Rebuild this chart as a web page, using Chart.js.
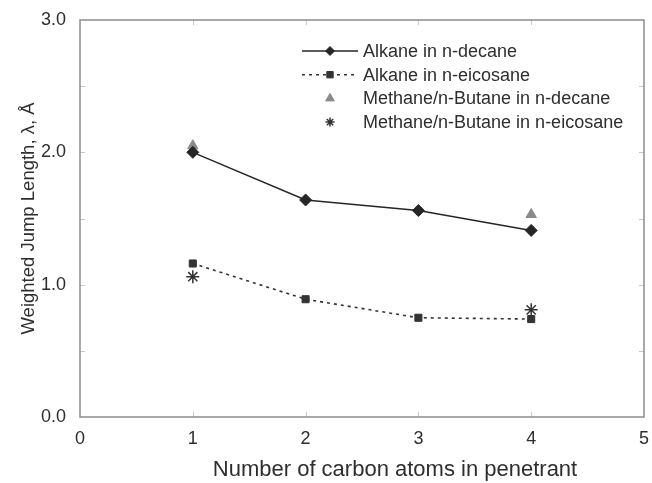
<!DOCTYPE html>
<html>
<head>
<meta charset="utf-8">
<script src="https://cdn.jsdelivr.net/npm/chart.js@4/dist/chart.umd.min.js"></script>
<style>
  html, body { margin: 0; padding: 0; background: #fff; }
  #wrap { width: 652px; height: 483px; }
</style>
</head>
<body>
<div id="wrap"><canvas id="c" width="652" height="483"></canvas></div>
<script>
// ---- data ----
const carbonAtoms = [1, 2, 3, 4];
const alkaneDecane = [2.00, 1.64, 1.56, 1.41];
const alkaneEicosane = [1.16, 0.89, 0.75, 0.74];
const mixAtoms = [1, 4];
const mixDecane = [2.05, 1.53];
const mixEicosane = [1.06, 0.81];
const seriesNames = [
  'Alkane in n-decane',
  'Alkane in n-eicosane',
  'Methane/n-Butane in n-decane',
  'Methane/n-Butane in n-eicosane'
];
const xTicks = [0, 1, 2, 3, 4, 5];
const yTicks = [0, 1, 2, 3];
const xTitle = 'Number of carbon atoms in penetrant';
const yTitle = 'Weighted Jump Length, \u03bb, \u00c5';

const pts = (xs, ys) => xs.map((x, i) => ({ x: x, y: ys[i] }));
const FONT = 'Liberation Sans, Arial, Helvetica, sans-serif';
const TXT = '#2e2e2e';

const datasets = [
  { label: seriesNames[0], data: pts(carbonAtoms, alkaneDecane), showLine: true,
    borderColor: '#262626', backgroundColor: '#262626', borderWidth: 1.5,
    pointStyle: 'rectRot', pointRadius: 6, pointBorderWidth: 1 },
  { label: seriesNames[1], data: pts(carbonAtoms, alkaneEicosane), showLine: true,
    borderColor: '#333', backgroundColor: '#333', borderWidth: 1.6, borderDash: [3, 4],
    pointStyle: 'rect', pointRadius: 5, pointBorderWidth: 1 },
  { label: seriesNames[2], data: pts(mixAtoms, mixDecane), showLine: false,
    borderColor: '#8a8a8a', backgroundColor: '#8a8a8a',
    pointStyle: 'triangle', pointRadius: 6, pointBorderWidth: 1 },
  { label: seriesNames[3], data: pts(mixAtoms, mixEicosane), showLine: false,
    borderColor: '#333', backgroundColor: '#333',
    pointStyle: 'star', pointRadius: 6.5, pointBorderWidth: 1.5 }
];

const framePlugin = {
  id: 'frame',
  afterDatasetsDraw(chart) {
    const { ctx, chartArea: a, scales } = chart;
    ctx.save();
    // minor tick marks (inward)
    ctx.strokeStyle = '#c8c8c8';
    ctx.lineWidth = 1;
    for (let v = 0.5; v < 3; v += 0.5) {
      const y = Math.round(scales.y.getPixelForValue(v)) + 0.5;
      ctx.beginPath();
      ctx.moveTo(a.left, y); ctx.lineTo(a.left + 5, y);
      ctx.moveTo(a.right, y); ctx.lineTo(a.right - 5, y);
      ctx.stroke();
    }
    for (let v = 1; v < 5; v++) {
      const x = Math.round(scales.x.getPixelForValue(v)) + 0.5;
      ctx.beginPath();
      ctx.moveTo(x, a.bottom); ctx.lineTo(x, a.bottom - 5);
      ctx.moveTo(x, a.top); ctx.lineTo(x, a.top + 5);
      ctx.stroke();
    }
    // plot frame
    ctx.strokeStyle = '#8c8c8c';
    ctx.lineWidth = 1.5;
    ctx.strokeRect(a.left, a.top, a.right - a.left, a.bottom - a.top);
    ctx.restore();
  },
  afterDraw(chart) {
    const { ctx } = chart;
    ctx.save();
    // x-axis title (as placed in the reference, slightly right of centre)
    ctx.font = '22px ' + FONT;
    ctx.fillStyle = TXT;
    ctx.textAlign = 'center';
    ctx.textBaseline = 'middle';
    ctx.fillText(xTitle, 395, 470);
    // legend inside plot area
    const sx0 = 302, sx1 = 358, mx = 330, tx = 363;
    const y0 = 51, dy = 23.7;
    ctx.font = '18px ' + FONT;
    ctx.textAlign = 'left';
    chart.data.datasets.forEach((ds, i) => {
      const y = y0 + i * dy;
      if (ds.showLine) {
        ctx.save();
        ctx.strokeStyle = ds.borderColor;
        ctx.lineWidth = ds.borderWidth;
        ctx.setLineDash(ds.borderDash || []);
        ctx.beginPath();
        ctx.moveTo(sx0, y); ctx.lineTo(sx1, y);
        ctx.stroke();
        ctx.restore();
      }
      ctx.save();
      ctx.strokeStyle = ds.borderColor;
      ctx.fillStyle = ds.backgroundColor;
      ctx.lineWidth = ds.pointBorderWidth;
      Chart.helpers.drawPoint(ctx, { pointStyle: ds.pointStyle, radius: ds.pointStyle === 'triangle' ? 5 : 4.5, rotation: 0, borderWidth: ds.pointBorderWidth }, mx, y);
      ctx.restore();
      ctx.fillStyle = TXT;
      ctx.fillText(ds.label, tx, y + 1);
    });
    ctx.restore();
  }
};

new Chart(document.getElementById('c'), {
  type: 'scatter',
  data: { datasets },
  options: {
    responsive: false,
    animation: false,
    devicePixelRatio: 1,
    layout: { padding: { top: 20, right: 4, left: 0, bottom: 0 } },
    plugins: { legend: { display: false }, tooltip: { enabled: false } },
    scales: {
      x: {
        type: 'linear', min: 0, max: 5,
        afterBuildTicks: s => { s.ticks = xTicks.map(v => ({ value: v })); },
        afterFit: s => { s.height = 66; },
        grid: { display: false },
        border: { display: false },
        ticks: { color: TXT, font: { family: FONT, size: 18 }, padding: 3, maxRotation: 0,
                 callback: v => String(v) },
        title: { display: false, text: xTitle }
      },
      y: {
        type: 'linear', min: 0, max: 3,
        afterBuildTicks: s => { s.ticks = yTicks.map(v => ({ value: v })); },
        afterFit: s => { s.width = 80; },
        grid: { display: false },
        border: { display: false },
        ticks: { color: TXT, font: { family: FONT, size: 18 }, padding: 6,
                 callback: v => Number(v).toFixed(1) },
        title: { display: true, text: yTitle, color: TXT, font: { family: FONT, size: 18.5 },
                 padding: { top: 18, bottom: 0 } }
      }
    }
  },
  plugins: [framePlugin]
});
</script>
</body>
</html>
